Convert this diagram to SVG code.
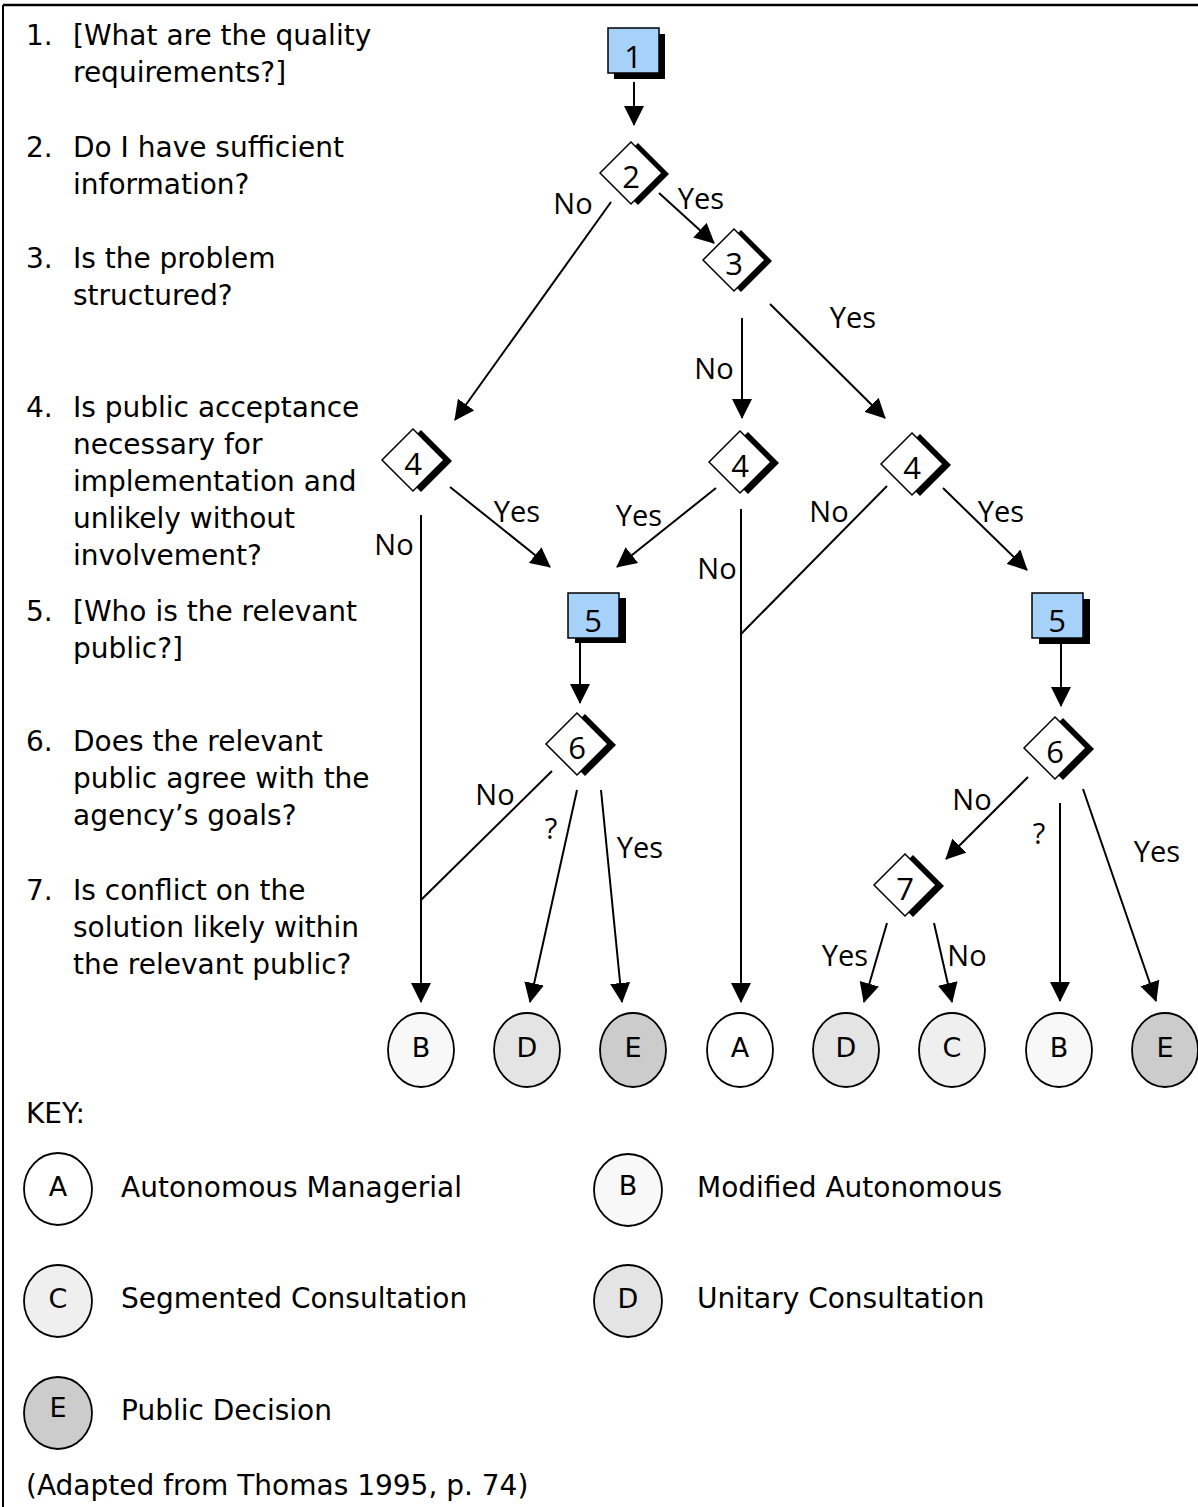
<svg xmlns="http://www.w3.org/2000/svg" width="1198" height="1507" viewBox="0 0 1198 1507">
<style>
.t{font-family:"DejaVu Sans",Verdana,sans-serif;font-size:28px;fill:#000}
.lb{font-family:"Open Sans","DejaVu Sans",sans-serif;font-size:29px;fill:#000;text-anchor:middle}
.dg{font-family:"Open Sans","DejaVu Sans",sans-serif;font-size:31px;fill:#000;text-anchor:middle}
.el{font-family:"DejaVu Sans",sans-serif;font-size:27px;fill:#000;text-anchor:middle}
.c{stroke:#000;stroke-width:2;fill:none}
.a{marker-end:url(#ah)}
.box{fill:#a6d2fa;stroke:#000;stroke-width:1.5}
.sh{fill:#000}
.dm{fill:#fff;stroke:#000;stroke-width:1.5}
.ov{stroke:#000;stroke-width:1.8}
</style>
<defs>
<marker id="ah" markerUnits="userSpaceOnUse" markerWidth="20" markerHeight="20" viewBox="0 0 20 20" refX="19" refY="10" orient="auto">
<path d="M0,0 L20,10 L0,20 z" fill="#000"/>
</marker>
<polygon id="dia" points="0,-31 31,0 0,31 -31,0"/>
</defs>
<rect x="0" y="0" width="1198" height="1507" fill="#fff"/>
<g id="frame">
<line x1="3" y1="5" x2="1198" y2="5" stroke="#000" stroke-width="2.5"/>
<line x1="3" y1="5" x2="3" y2="1507" stroke="#000" stroke-width="2"/>
</g>
<g id="questions">
<text class="t" x="26" y="45">1.</text><text class="t" x="73" y="45">[What are the quality</text>
<text class="t" x="73" y="82">requirements?]</text>
<text class="t" x="26" y="157">2.</text><text class="t" x="73" y="157">Do I have sufficient</text>
<text class="t" x="73" y="194">information?</text>
<text class="t" x="26" y="268">3.</text><text class="t" x="73" y="268">Is the problem</text>
<text class="t" x="73" y="305">structured?</text>
<text class="t" x="26" y="417">4.</text><text class="t" x="73" y="417">Is public acceptance</text>
<text class="t" x="73" y="454">necessary for</text>
<text class="t" x="73" y="491">implementation and</text>
<text class="t" x="73" y="528">unlikely without</text>
<text class="t" x="73" y="565">involvement?</text>
<text class="t" x="26" y="621">5.</text><text class="t" x="73" y="621">[Who is the relevant</text>
<text class="t" x="73" y="658">public?]</text>
<text class="t" x="26" y="751">6.</text><text class="t" x="73" y="751">Does the relevant</text>
<text class="t" x="73" y="788">public agree with the</text>
<text class="t" x="73" y="825">agency’s goals?</text>
<text class="t" x="26" y="900">7.</text><text class="t" x="73" y="900">Is conflict on the</text>
<text class="t" x="73" y="937">solution likely within</text>
<text class="t" x="73" y="974">the relevant public?</text>
</g>
<g id="connectors">
<line class="c a" x1="634" y1="82" x2="634" y2="125"/>
<line class="c a" x1="611" y1="202" x2="455" y2="420"/>
<line class="c a" x1="659" y1="193" x2="714" y2="243"/>
<line class="c a" x1="742" y1="318" x2="742" y2="418"/>
<line class="c a" x1="770" y1="304" x2="885" y2="418"/>
<line class="c a" x1="421" y1="515" x2="421" y2="1002"/>
<line class="c a" x1="450" y1="487" x2="550" y2="567"/>
<line class="c a" x1="716" y1="488" x2="617" y2="567"/>
<line class="c a" x1="741" y1="509" x2="741" y2="1002"/>
<line class="c" x1="887" y1="486" x2="741" y2="634"/>
<line class="c a" x1="943" y1="488" x2="1027" y2="570"/>
<line class="c a" x1="580" y1="642" x2="580" y2="703"/>
<line class="c a" x1="1061" y1="644" x2="1061" y2="706"/>
<line class="c" x1="552" y1="771" x2="421" y2="900"/>
<line class="c a" x1="577" y1="790" x2="530" y2="1002"/>
<line class="c a" x1="601" y1="790" x2="622" y2="1002"/>
<line class="c a" x1="1028" y1="777" x2="946" y2="859"/>
<line class="c a" x1="1060" y1="803" x2="1060" y2="1001"/>
<line class="c a" x1="1083" y1="789" x2="1156" y2="1001"/>
<line class="c a" x1="887" y1="923" x2="864" y2="1002"/>
<line class="c a" x1="934" y1="923" x2="952" y2="1002"/>
</g>
<g id="edge-labels">
<text class="lb" x="573" y="214">No</text>
<text class="lb" x="701" y="209">Yes</text>
<text class="lb" x="714" y="379">No</text>
<text class="lb" x="853" y="328">Yes</text>
<text class="lb" x="394" y="555">No</text>
<text class="lb" x="517" y="522">Yes</text>
<text class="lb" x="639" y="526">Yes</text>
<text class="lb" x="717" y="579">No</text>
<text class="lb" x="829" y="522">No</text>
<text class="lb" x="1001" y="522">Yes</text>
<text class="lb" x="495" y="805">No</text>
<text class="lb" x="551" y="839">?</text>
<text class="lb" x="640" y="858">Yes</text>
<text class="lb" x="972" y="810">No</text>
<text class="lb" x="1039" y="844">?</text>
<text class="lb" x="1157" y="862">Yes</text>
<text class="lb" x="845" y="966">Yes</text>
<text class="lb" x="967" y="966">No</text>
</g>
<g id="n1"><rect class="sh" x="614" y="34" width="51" height="45"/><rect class="box" x="608" y="28" width="51" height="45"/><text class="dg" x="633" y="68">1</text></g>
<g id="n2" transform="translate(631,173)"><use href="#dia" class="sh" transform="translate(7,1)"/><use href="#dia" class="dm"/><text class="dg" x="0" y="15">2</text></g>
<g id="n3" transform="translate(734,260)"><use href="#dia" class="sh" transform="translate(7,1)"/><use href="#dia" class="dm"/><text class="dg" x="0" y="15">3</text></g>
<g id="n4a" transform="translate(413,460)"><use href="#dia" class="sh" transform="translate(8,1)"/><use href="#dia" class="dm"/><text class="dg" x="0" y="15">4</text></g>
<g id="n4b" transform="translate(740,462)"><use href="#dia" class="sh" transform="translate(8,1)"/><use href="#dia" class="dm"/><text class="dg" x="0" y="15">4</text></g>
<g id="n4c" transform="translate(912,464)"><use href="#dia" class="sh" transform="translate(8,1)"/><use href="#dia" class="dm"/><text class="dg" x="0" y="15">4</text></g>
<g id="n5a"><rect class="sh" x="575" y="598" width="51" height="45"/><rect class="box" x="568" y="593" width="51" height="45"/><text class="dg" x="593" y="632">5</text></g>
<g id="n5b"><rect class="sh" x="1039" y="599" width="51" height="45"/><rect class="box" x="1032" y="593" width="51" height="45"/><text class="dg" x="1057" y="632">5</text></g>
<g id="n6a" transform="translate(577,744)"><use href="#dia" class="sh" transform="translate(8,1)"/><use href="#dia" class="dm"/><text class="dg" x="0" y="15">6</text></g>
<g id="n6b" transform="translate(1055,748)"><use href="#dia" class="sh" transform="translate(8,1)"/><use href="#dia" class="dm"/><text class="dg" x="0" y="15">6</text></g>
<g id="n7" transform="translate(905,885)"><use href="#dia" class="sh" transform="translate(8,1)"/><use href="#dia" class="dm"/><text class="dg" x="0" y="15">7</text></g>
<g id="outcomes">
<g id="o1"><ellipse class="ov" cx="421" cy="1050" rx="33" ry="37" fill="#f8f8f8"/><text class="el" x="421" y="1057">B</text></g>
<g id="o2"><ellipse class="ov" cx="527" cy="1050" rx="33" ry="37" fill="#e4e4e4"/><text class="el" x="527" y="1057">D</text></g>
<g id="o3"><ellipse class="ov" cx="633" cy="1050" rx="33" ry="37" fill="#cccccc"/><text class="el" x="633" y="1057">E</text></g>
<g id="o4"><ellipse class="ov" cx="740" cy="1050" rx="33" ry="37" fill="#ffffff"/><text class="el" x="740" y="1057">A</text></g>
<g id="o5"><ellipse class="ov" cx="846" cy="1050" rx="33" ry="37" fill="#e4e4e4"/><text class="el" x="846" y="1057">D</text></g>
<g id="o6"><ellipse class="ov" cx="952" cy="1050" rx="33" ry="37" fill="#efefef"/><text class="el" x="952" y="1057">C</text></g>
<g id="o7"><ellipse class="ov" cx="1059" cy="1050" rx="33" ry="37" fill="#f8f8f8"/><text class="el" x="1059" y="1057">B</text></g>
<g id="o8"><ellipse class="ov" cx="1165" cy="1050" rx="33" ry="37" fill="#cccccc"/><text class="el" x="1165" y="1057">E</text></g>
</g>
<g id="key">
<text class="t" x="26" y="1123">KEY:</text>
<g id="kA"><ellipse class="ov" cx="58" cy="1189" rx="34" ry="36" fill="#ffffff"/><text class="el" x="58" y="1196">A</text><text class="t" x="121" y="1197">Autonomous Managerial</text></g>
<g id="kB"><ellipse class="ov" cx="628" cy="1190" rx="34" ry="36" fill="#f8f8f8"/><text class="el" x="628" y="1195">B</text><text class="t" x="697" y="1197">Modified Autonomous</text></g>
<g id="kC"><ellipse class="ov" cx="58" cy="1301" rx="34" ry="36" fill="#efefef"/><text class="el" x="58" y="1308">C</text><text class="t" x="121" y="1308">Segmented Consultation</text></g>
<g id="kD"><ellipse class="ov" cx="628" cy="1301" rx="34" ry="36" fill="#e4e4e4"/><text class="el" x="628" y="1308">D</text><text class="t" x="697" y="1308">Unitary Consultation</text></g>
<g id="kE"><ellipse class="ov" cx="58" cy="1413" rx="34" ry="36" fill="#cccccc"/><text class="el" x="58" y="1417">E</text><text class="t" x="121" y="1420">Public Decision</text></g>
<text class="t" x="26" y="1495">(Adapted from Thomas 1995, p. 74)</text>
</g>
</svg>
